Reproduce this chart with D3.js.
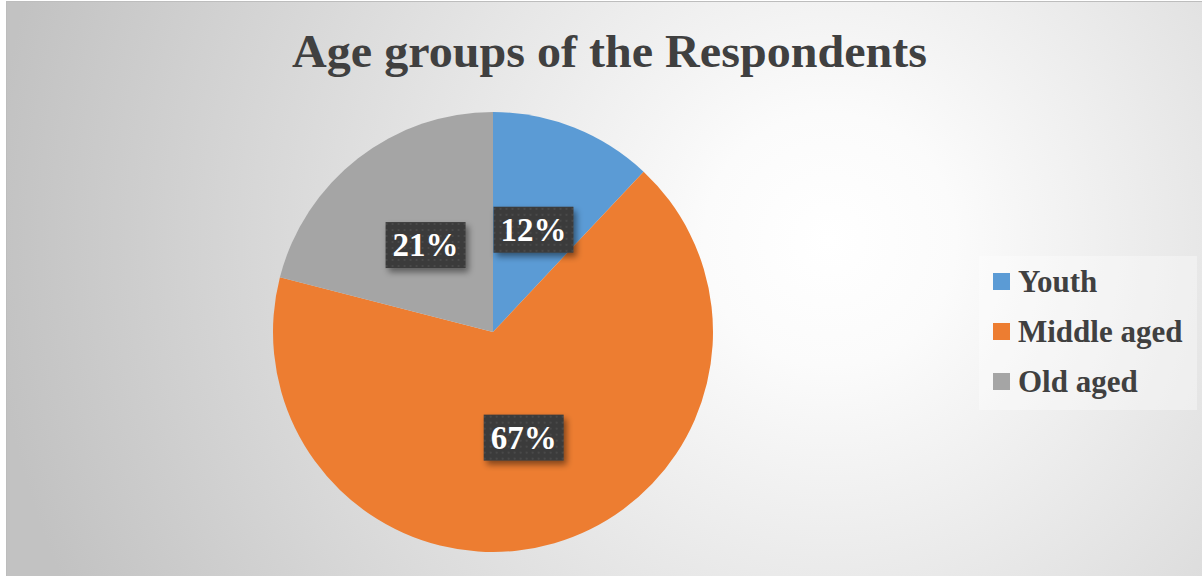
<!DOCTYPE html>
<html>
<head>
<meta charset="utf-8">
<script src="https://cdn.jsdelivr.net/npm/d3@7"></script>
<style>
  html, body { margin: 0; padding: 0; background: #fff; }
  #chart { width: 1202px; height: 576px; }
</style>
</head>
<body>
<div id="chart"></div>
<script>
const categories = ["Youth", "Middle aged", "Old aged"];
const values = [12, 67, 21];
const colors = ["#5B9BD5", "#ED7D31", "#A5A5A5"];
const title = "Age groups of the Respondents";

class Pie {
  constructor(options) {
    let o = {
      el: "#chart",
      width: 1202,
      height: 576,
      center: [493, 332],
      radius: 220,
      font: "'Liberation Serif', 'Times New Roman', serif",
      textColor: "#404040"
    };
    Object.assign(this, o, options);
    this._init();
  }

  _init() {
    this.svg = d3
      .select(this.el)
      .append("svg")
      .attr("width", this.width)
      .attr("height", this.height);
    this.defs = this.svg.append("defs");
    this._createBackground();
    this._createTitle();
    this._createPie();
    this._createLabels();
    this._createLegend();
  }

  _createBackground() {
    let grad = this.defs
      .append("radialGradient")
      .attr("id", "bg")
      .attr("gradientUnits", "userSpaceOnUse")
      .attr("cx", 830)
      .attr("cy", 240)
      .attr("r", 840);
    grad.append("stop").attr("offset", 0).attr("stop-color", "#ffffff");
    grad.append("stop").attr("offset", 0.15).attr("stop-color", "#fbfbfb");
    grad.append("stop").attr("offset", 1).attr("stop-color", "#c2c2c2");

    this.svg
      .append("rect")
      .attr("x", 6.5)
      .attr("y", 1.5)
      .attr("width", this.width)
      .attr("height", this.height)
      .attr("fill", "url(#bg)")
      .attr("stroke", "#bdbdbd")
      .attr("stroke-width", 1);
  }

  _createTitle() {
    // the original title is set a little wider than the font's natural width
    this.svg
      .append("text")
      .attr("x", 292)
      .attr("y", 67)
      .attr("textLength", 635)
      .attr("lengthAdjust", "spacingAndGlyphs")
      .attr("font-family", this.font)
      .attr("font-weight", "bold")
      .attr("font-size", 46)
      .attr("fill", this.textColor)
      .text(title);
  }

  _createPie() {
    this.data = categories.map((name, i) => ({ name, value: values[i] }));
    this.pie = d3.pie().sort(null).value(d => d.value);
    this.arc = d3.arc().innerRadius(0).outerRadius(this.radius);
    this.group = this.svg
      .append("g")
      .attr("transform", `translate(${this.center[0]},${this.center[1]})`);
    this.group
      .selectAll(".slice")
      .data(this.pie(this.data))
      .enter()
      .append("path")
      .attr("class", "slice")
      .attr("d", this.arc)
      .attr("fill", (d, i) => colors[i]);
  }

  _createLabels() {
    // dotted dark fill for the data label boxes
    let pat = this.defs
      .append("pattern")
      .attr("id", "dots")
      .attr("patternUnits", "userSpaceOnUse")
      .attr("width", 6)
      .attr("height", 6);
    pat.append("rect").attr("width", 6).attr("height", 6).attr("fill", "#3a3a3a");
    pat.append("rect").attr("x", 2).attr("y", 2).attr("width", 2).attr("height", 2).attr("fill", "#4a4a4a");

    let shadow = this.defs
      .append("filter")
      .attr("id", "shadow")
      .attr("x", "-30%")
      .attr("y", "-30%")
      .attr("width", "160%")
      .attr("height", "160%");
    shadow
      .append("feDropShadow")
      .attr("dx", 3)
      .attr("dy", 4)
      .attr("stdDeviation", 3)
      .attr("flood-color", "#000")
      .attr("flood-opacity", 0.45);

    let total = d3.sum(values);
    let labels = this.group
      .selectAll(".label")
      .data(this.pie(this.data))
      .enter()
      .append("g")
      .attr("class", "label")
      .attr("transform", d => `translate(${this.arc.centroid(d)})`);

    labels
      .append("rect")
      .attr("x", -40)
      .attr("y", -23)
      .attr("width", 80)
      .attr("height", 46)
      .attr("fill", "url(#dots)")
      .attr("filter", "url(#shadow)");

    labels
      .append("text")
      .attr("y", 11)
      .attr("text-anchor", "middle")
      .attr("font-family", this.font)
      .attr("font-weight", "bold")
      .attr("font-size", 33)
      .attr("fill", "#fff")
      .text(d => Math.round((d.data.value / total) * 100) + "%");
  }

  _createLegend() {
    let legend = this.svg.append("g").attr("transform", "translate(979,256)");
    legend
      .append("rect")
      .attr("width", 218)
      .attr("height", 154)
      .attr("fill", "#fff")
      .attr("fill-opacity", 0.35);

    let items = legend
      .selectAll(".item")
      .data(categories)
      .enter()
      .append("g")
      .attr("class", "item")
      .attr("transform", (d, i) => `translate(14,${17 + i * 50})`);

    items
      .append("rect")
      .attr("width", 17)
      .attr("height", 17)
      .attr("fill", (d, i) => colors[i]);

    items
      .append("text")
      .attr("x", 25)
      .attr("y", 19)
      .attr("font-family", this.font)
      .attr("font-weight", "bold")
      .attr("font-size", 31)
      .attr("fill", this.textColor)
      .text(d => d);
  }
}

new Pie({});
</script>
</body>
</html>
